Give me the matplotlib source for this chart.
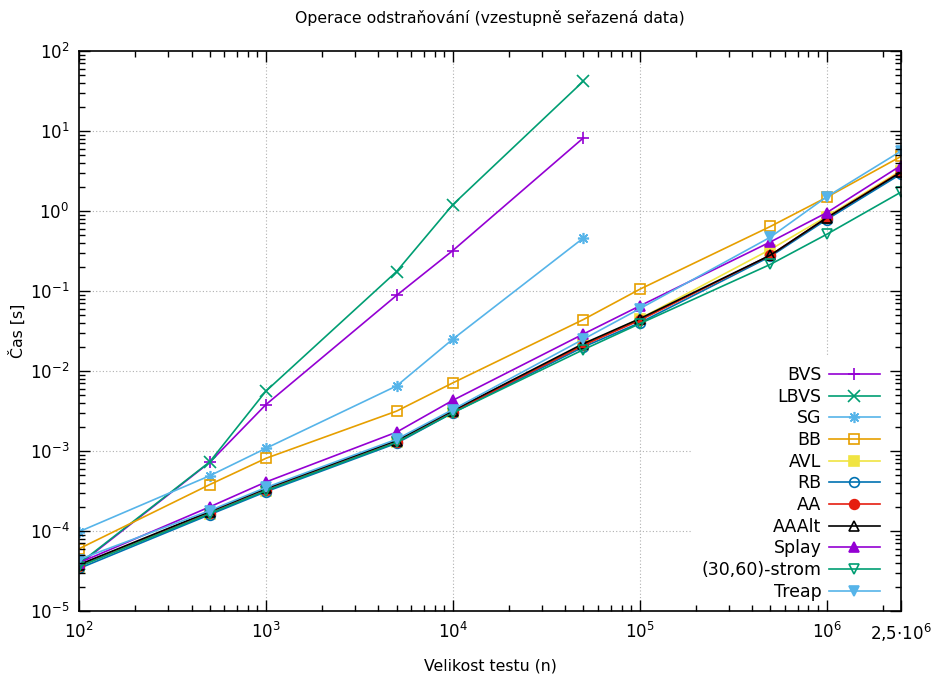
import matplotlib
matplotlib.use("Agg")
import matplotlib.pyplot as plt
from matplotlib.ticker import LogLocator, NullFormatter, FixedLocator

# velikosti testu
n = [1e2, 5e2, 1e3, 5e3, 1e4, 5e4, 1e5, 5e5, 1e6, 2.5e6]

# namerene casy [s]
bvs = [3.8e-5, 7.2e-4, 3.8e-3, 0.088, 0.32, 8.2]
lbvs = [3.9e-5, 7.3e-4, 5.6e-3, 0.175, 1.2, 42.0]
sg = [9.8e-5, 4.9e-4, 1.08e-3, 6.5e-3, 0.025, 0.46]
bb = [6.0e-5, 3.8e-4, 8.1e-4, 3.15e-3, 7.1e-3, 0.044, 0.105, 0.64, 1.48, 4.8]
avl = [3.6e-5, 1.65e-4, 3.2e-4, 1.3e-3, 3.1e-3, 0.021, 0.045, 0.33, 0.85, 3.2]
rb = [3.4e-5, 1.6e-4, 3.1e-4, 1.25e-3, 3.0e-3, 0.020, 0.040, 0.27, 0.78, 2.9]
aa = [3.7e-5, 1.7e-4, 3.3e-4, 1.3e-3, 3.1e-3, 0.021, 0.043, 0.28, 0.82, 3.1]
aaalt = [3.8e-5, 1.75e-4, 3.4e-4, 1.35e-3, 3.2e-3, 0.022, 0.045, 0.28, 0.82, 3.05]
splay = [4.0e-5, 2.0e-4, 4.1e-4, 1.72e-3, 4.3e-3, 0.029, 0.065, 0.41, 0.95, 3.7]
strom = [3.6e-5, 1.65e-4, 3.2e-4, 1.28e-3, 3.0e-3, 0.0185, 0.039, 0.215, 0.51, 1.72]
treap = [4.4e-5, 1.8e-4, 3.5e-4, 1.4e-3, 3.3e-3, 0.025, 0.060, 0.47, 1.5, 5.6]

# hlavni znacky os
xmajor = [1e2, 1e3, 1e4, 1e5, 1e6, 2.5e6]
xlabels = [r"$\mathdefault{10^{2}}$", r"$\mathdefault{10^{3}}$",
           r"$\mathdefault{10^{4}}$", r"$\mathdefault{10^{5}}$",
           r"$\mathdefault{10^{6}}$", r"$\mathdefault{2{,}5{\cdot}10^{6}}$"]
ymajor = [1e-5, 1e-4, 1e-3, 1e-2, 1e-1, 1e0, 1e1, 1e2]
ylabels = [r"$\mathdefault{10^{-5}}$", r"$\mathdefault{10^{-4}}$",
           r"$\mathdefault{10^{-3}}$", r"$\mathdefault{10^{-2}}$",
           r"$\mathdefault{10^{-1}}$", r"$\mathdefault{10^{0}}$",
           r"$\mathdefault{10^{1}}$", r"$\mathdefault{10^{2}}$"]

purple = "#9400d3"
green = "#009e73"
sky = "#56b4e9"
orange = "#e69f00"
yellow = "#f0e442"
blue = "#0072b2"
red = "#e51e10"

series = [
    ("BVS", bvs, purple, "+", False),
    ("LBVS", lbvs, green, "x", False),
    ("SG", sg, sky, (8, 2, 0), False),
    ("BB", bb, orange, "s", False),
    ("AVL", avl, yellow, "s", True),
    ("RB", rb, blue, "o", False),
    ("AA", aa, red, "o", True),
    ("AAAlt", aaalt, "black", "^", False),
    ("Splay", splay, purple, "^", True),
    ("(30,60)-strom", strom, green, "v", False),
    ("Treap", treap, sky, "v", True),
]

plt.rcParams["font.family"] = "DejaVu Sans"
plt.rcParams["font.size"] = 12

fig = plt.figure(figsize=(9.34, 6.78), dpi=100)
ax = fig.add_axes([0.0846, 0.0988, 0.880, 0.826])

for name, vals, col, mk, filled in series:
    xs = n[:len(vals)]
    ax.plot(xs, vals, color=col, lw=1.2, marker=mk,
            markersize=8 if mk in ("+", "x", (8, 2, 0)) else 7,
            markeredgewidth=1.2,
            markerfacecolor=col if filled else "none",
            markeredgecolor=col, label=name, zorder=3)

ax.set_xscale("log")
ax.set_yscale("log")
ax.set_xlim(1e2, 2.5e6)
ax.set_ylim(1e-5, 1e2)

ax.xaxis.set_major_locator(FixedLocator(xmajor))
ax.set_xticklabels(xlabels)
ax.xaxis.set_minor_locator(LogLocator(base=10, subs=range(2, 10), numticks=20))
ax.xaxis.set_minor_formatter(NullFormatter())
ax.yaxis.set_major_locator(FixedLocator(ymajor))
ax.set_yticklabels(ylabels)
ax.yaxis.set_minor_locator(LogLocator(base=10, subs=range(2, 10), numticks=20))
ax.yaxis.set_minor_formatter(NullFormatter())

ax.tick_params(which="both", direction="in", top=True, right=True, labelsize=12)
ax.tick_params(axis="x", pad=8)
ax.tick_params(axis="y", pad=7)
ax.tick_params(which="major", length=8, width=1)
ax.tick_params(which="minor", length=4, width=1)
for s in ax.spines.values():
    s.set_linewidth(1.2)
    s.set_zorder(6)
# znacky nad legendou, mrizka pod ni
ax.xaxis.set_zorder(6)
ax.yaxis.set_zorder(6)

grid_kw = dict(color="#b0b0b0", linestyle=(0, (1, 2)), lw=0.8, zorder=1)
for xv in xmajor[1:-1]:
    ax.axvline(xv, **grid_kw)
for yv in ymajor[1:-1]:
    ax.axhline(yv, **grid_kw)

ax.set_title("Operace odstraňování (vzestupně seřazená data)", fontsize=11.3, pad=20)
ax.set_xlabel("Velikost testu (n)", fontsize=11.3, labelpad=10)
ax.set_ylabel("Čas [s]", fontsize=11.3, labelpad=3)

leg = ax.legend(loc="lower right", bbox_to_anchor=(0.9866, 0.0), markerfirst=False,
                frameon=True, fancybox=False, edgecolor="none", facecolor="white",
                framealpha=1, handlelength=2.9, handletextpad=0.45,
                labelspacing=0.21, borderpad=0.6, borderaxespad=0.0, fontsize=12.5)
leg.set_zorder(5)

fig.savefig("out.png", dpi=100)
